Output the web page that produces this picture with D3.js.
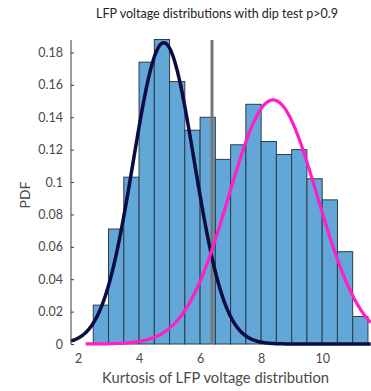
<!DOCTYPE html>
<html>
<head>
<meta charset="utf-8">
<script src="https://cdn.jsdelivr.net/npm/d3@7"></script>
<style>
  html, body { margin: 0; padding: 0; background: #fff; }
  svg { display: block; font-family: Lato, "Open Sans", sans-serif; }
</style>
</head>
<body>
<svg id="chart" width="371" height="391"></svg>
<script>
// Histogram of kurtosis values (bin edges every 0.5, PDF normalised)
const binStarts = [2.5, 3.0, 3.5, 4.0, 4.5, 5.0, 5.5, 6.0, 6.5, 7.0, 7.5, 8.0, 8.5, 9.0, 9.5, 10.0, 10.5, 11.0];
const binWidth = 0.5;
const binPdf = [0.024, 0.071, 0.103, 0.174, 0.188, 0.162, 0.132, 0.140, 0.114, 0.123, 0.148, 0.125, 0.117, 0.120, 0.102, 0.089, 0.057, 0.017];

// Two fitted Gaussian components: [dark, magenta]
const fitNames = ["low", "high"];
const fitMeans = [4.81, 8.39];
const fitSigmas = [1.0, 1.45];
const fitPeaks = [0.186, 0.1507];
const fitStarts = [1.77, 2.25];
const fitColors = ["#0b0b45", "#ff1ec8"];

// Threshold marker
const thresholdX = 6.39;

const xTicks = [2, 4, 6, 8, 10];
const yTicks = [0, 0.02, 0.04, 0.06, 0.08, 0.1, 0.12, 0.14, 0.16, 0.18];

const titleText = "LFP voltage distributions with dip test p>0.9";
const xLabel = "Kurtosis of LFP voltage distribution";
const yLabel = "PDF";

const svg = d3.select("#chart");
const m = { left: 71, right: 371, top: 40, bottom: 344 };

const x = d3.scaleLinear().domain([1.77, 11.6]).range([m.left, m.right]);
const y = d3.scaleLinear().domain([0, 0.1877]).range([m.bottom, m.top]);

const plot = svg.append("g");

// bars
plot.selectAll("rect.bar")
  .data(binStarts.map((s, i) => ({ s, v: binPdf[i] })))
  .join("rect")
  .attr("class", "bar")
  .attr("x", d => x(d.s))
  .attr("width", d => x(d.s + binWidth) - x(d.s))
  .attr("y", d => y(d.v))
  .attr("height", d => y(0) - y(d.v))
  .attr("fill", "#62a7d7")
  .attr("stroke", "#2c3c48")
  .attr("stroke-width", 1);

// threshold line
plot.append("line")
  .attr("x1", x(thresholdX)).attr("x2", x(thresholdX))
  .attr("y1", m.top).attr("y2", m.bottom)
  .attr("stroke", "#767676")
  .attr("stroke-width", 3);

// fitted Gaussian curves
const gauss = (v, mu, s, p) => p * Math.exp(-((v - mu) ** 2) / (2 * s * s));
const line = d3.line().x(d => x(d[0])).y(d => y(d[1]));
fitNames.forEach((name, k) => {
  const pts = d3.range(fitStarts[k], 11.6 + 1e-9, 0.02)
    .map(v => [v, gauss(v, fitMeans[k], fitSigmas[k], fitPeaks[k])]);
  plot.append("path")
    .attr("class", "fit-" + name)
    .datum(pts)
    .attr("d", line)
    .attr("fill", "none")
    .attr("stroke", fitColors[k])
    .attr("stroke-width", k === 0 ? 3.5 : 3.2)
    .attr("stroke-linejoin", "round");
});

// axes
const axisColor = "#3a3a3a";
const textColor = "#4a4a4a";
const font = "Lato, sans-serif";

const yAxis = svg.append("g")
  .attr("transform", `translate(${m.left},0)`)
  .call(d3.axisRight(y).tickValues(yTicks).tickSize(3).tickFormat(d => String(+d.toFixed(2))));
yAxis.select(".domain").attr("d", `M0,${m.top}V${m.bottom}`).attr("stroke", axisColor);
yAxis.selectAll(".tick line").attr("stroke", axisColor);
yAxis.selectAll(".tick text")
  .attr("x", -8).attr("text-anchor", "end")
  .attr("fill", textColor).attr("font-size", 12.5).attr("font-family", font);

const xAxis = svg.append("g")
  .attr("transform", `translate(0,${m.bottom})`)
  .call(d3.axisTop(x).tickValues(xTicks).tickSize(0).tickFormat(d3.format("d")));
xAxis.select(".domain").remove();
xAxis.selectAll(".tick text")
  .attr("y", 15).attr("dy", "0.32em")
  .attr("fill", textColor).attr("font-size", 12.5).attr("font-family", font);

// labels
svg.append("text")
  .attr("x", 217).attr("y", 18)
  .attr("text-anchor", "middle")
  .attr("font-size", 12.5)
  .attr("fill", "#222")
  .text(titleText);

svg.append("text")
  .attr("x", 215.5).attr("y", 383)
  .attr("text-anchor", "middle")
  .attr("font-size", 14.5)
  .attr("textLength", 227)
  .attr("lengthAdjust", "spacingAndGlyphs")
  .attr("fill", textColor)
  .text(xLabel);

svg.append("text")
  .attr("transform", "translate(30,195) rotate(-90)")
  .attr("text-anchor", "middle")
  .attr("font-size", 14)
  .attr("fill", textColor)
  .text(yLabel);
</script>
</body>
</html>
